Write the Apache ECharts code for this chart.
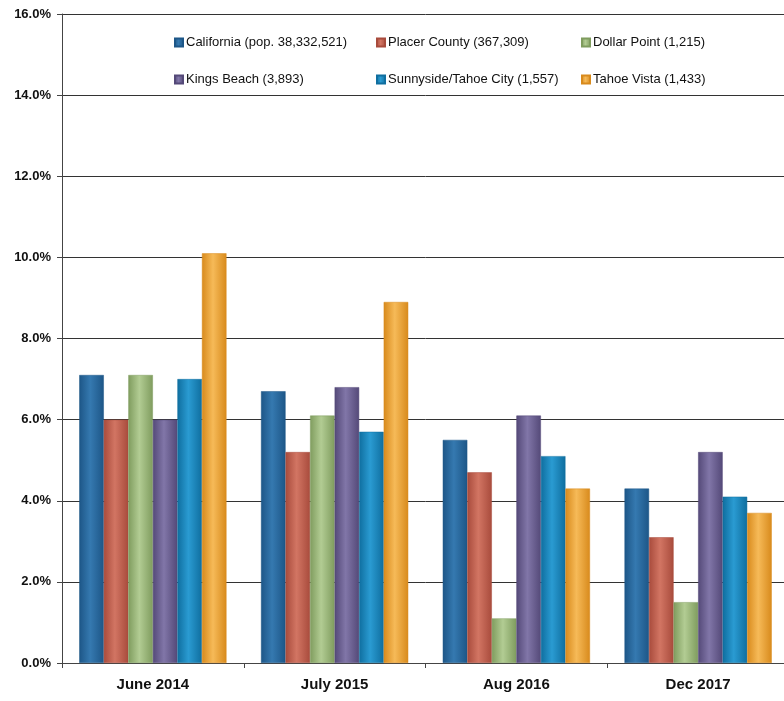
<!DOCTYPE html>
<html>
<head>
<meta charset="utf-8">
<script src="https://cdn.jsdelivr.net/npm/echarts@6/dist/echarts.min.js"></script>
<style>
  html, body { margin: 0; padding: 0; background: #fff; overflow: hidden; }
  /* the original chart runs a few pixels past the right edge of the page */
  #main { width: 789px; height: 701px; }
</style>
</head>
<body>
<div id="main"></div>
<script>
// data (percent)
var categories = ['June 2014', 'July 2015', 'Aug 2016', 'Dec 2017'];
var seriesNames = [
    'California (pop. 38,332,521)',
    'Placer County (367,309)',
    'Dollar Point (1,215)',
    'Kings Beach (3,893)',
    'Sunnyside/Tahoe City (1,557)',
    'Tahoe Vista (1,433)'
];
var california = [7.1, 6.7, 5.5, 4.3];
var placer = [6.0, 5.2, 4.7, 3.1];
var dollarPoint = [7.1, 6.1, 1.1, 1.5];
var kingsBeach = [6.0, 6.8, 6.1, 5.2];
var sunnyside = [7.0, 5.7, 5.1, 4.1];
var tahoeVista = [10.1, 8.9, 4.3, 3.7];
var yTicks = [0, 2, 4, 6, 8, 10, 12, 14, 16];

var values = [california, placer, dollarPoint, kingsBeach, sunnyside, tahoeVista];
// [edge, middle] colours for the bevelled look
var colors = [
    ['#1d5687', '#3579b0'],
    ['#a84b3c', '#d27563'],
    ['#7f9c5e', '#b2cc93'],
    ['#544978', '#8176a8'],
    ['#0f6e9f', '#2a9bd2'],
    ['#d88a1c', '#f6ba58']
];

function barColor(c) {
    return new echarts.graphic.LinearGradient(0, 0, 1, 0, [
        { offset: 0, color: c[0] },
        { offset: 0.45, color: c[1] },
        { offset: 1, color: c[0] }
    ]);
}

var font = '"Liberation Sans Narrow", "Arial Narrow", "Liberation Sans", Arial, sans-serif';

// legend placed in two rows of three aligned columns
var legendPos = [[174, 36], [376, 36], [581, 36], [174, 73], [376, 73], [581, 73]];
var legends = seriesNames.map(function (name, i) {
    return {
        data: [name],
        left: legendPos[i][0],
        top: legendPos[i][1],
        itemWidth: 8,
        itemHeight: 8,
        itemGap: 2,
        padding: 0,
        icon: 'rect',
        selectedMode: false,
        textStyle: { fontFamily: font, fontSize: 13, color: '#111', padding: [0, 0, 0, -2] }
    };
});

var series = seriesNames.map(function (name, i) {
    return {
        name: name,
        type: 'bar',
        data: values[i],
        barGap: '0%',
        barCategoryGap: '19%',
        itemStyle: {
            color: barColor(colors[i]),
            borderColor: colors[i][0],
            borderWidth: 0.5
        }
    };
});

var myChart = echarts.init(document.getElementById('main'));

var option = {
    animation: false,
    backgroundColor: '#fff',
    color: colors.map(function (c) { return c[1]; }),
    legend: legends,
    grid: { left: 62, right: 0, top: 14, bottom: 38, containLabel: false },
    xAxis: {
        type: 'category',
        data: categories,
        axisLine: { lineStyle: { color: '#444', width: 1 } },
        axisTick: { show: true, length: 5, lineStyle: { color: '#444' } },
        axisLabel: { fontFamily: font, fontWeight: 'bold', fontSize: 15, color: '#111', margin: 14 }
    },
    yAxis: {
        type: 'value',
        min: yTicks[0],
        max: yTicks[yTicks.length - 1],
        interval: 2,
        axisLine: { show: true, lineStyle: { color: '#444', width: 1 } },
        axisTick: { show: true, length: 5, lineStyle: { color: '#444' } },
        splitLine: { lineStyle: { color: '#333', width: 1 } },
        axisLabel: {
            fontFamily: font, fontWeight: 'bold', fontSize: 13, color: '#111', margin: 11,
            formatter: function (v) { return v.toFixed(1) + '%'; }
        }
    },
    series: series
};

myChart.setOption(option);
</script>
</body>
</html>
